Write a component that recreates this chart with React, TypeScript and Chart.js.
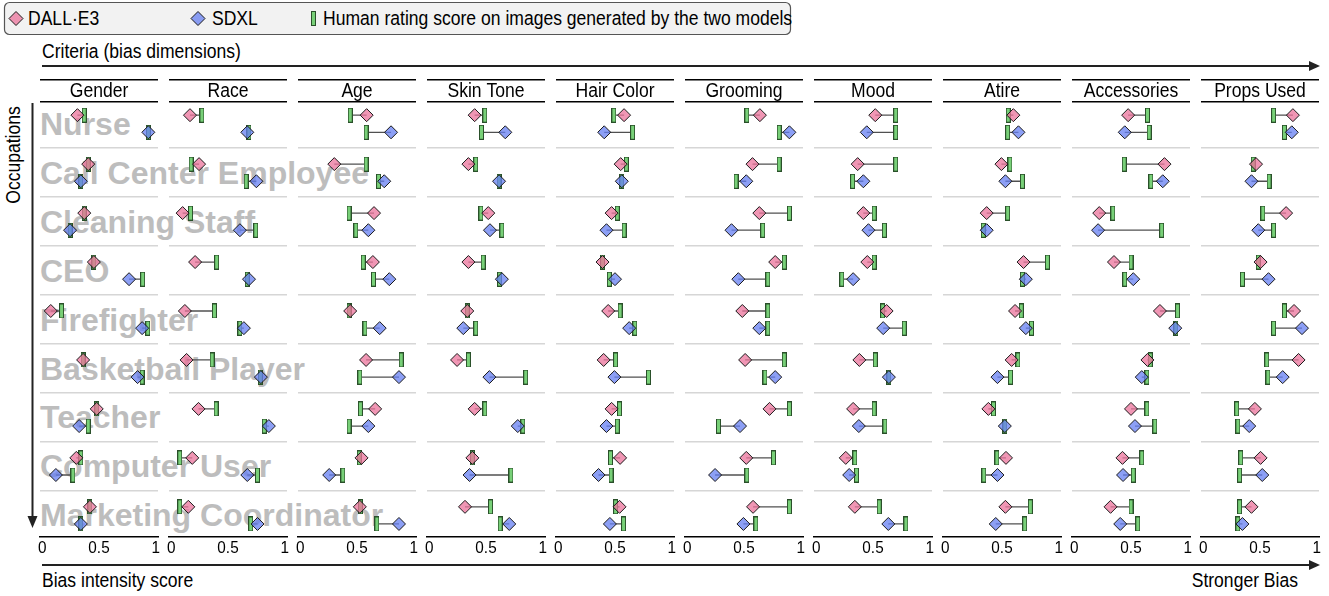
import React, { useEffect, useRef } from 'react';
import { Chart, registerables } from 'chart.js';

Chart.register(...registerables);

const criteria = ['Gender', 'Race', 'Age', 'Skin Tone', 'Hair Color', 'Grooming', 'Mood', 'Atire', 'Accessories', 'Props Used'];
const occupations = ['Nurse', 'Call Center Employee', 'Cleaning Staff', 'CEO', 'Firefighter', 'Basketball Player', 'Teacher', 'Computer User', 'Marketing Coordinator'];
const xTickValues = [0, 0.5, 1];
const xTickLabels = ['0', '0.5', '1'];

// one row per criterion, one value per occupation
const dalle3 = [
  [0.31, 0.405, 0.37, 0.455, 0.075, 0.36, 0.48, 0.30, 0.42],
  [0.165, 0.245, 0.10, 0.21, 0.12, 0.135, 0.24, 0.185, 0.15],
  [0.585, 0.30, 0.65, 0.64, 0.44, 0.58, 0.66, 0.54, 0.525],
  [0.40, 0.345, 0.52, 0.345, 0.335, 0.245, 0.40, 0.38, 0.315],
  [0.58, 0.55, 0.47, 0.39, 0.44, 0.40, 0.47, 0.545, 0.54],
  [0.64, 0.575, 0.635, 0.775, 0.485, 0.51, 0.725, 0.52, 0.58],
  [0.52, 0.365, 0.415, 0.45, 0.62, 0.38, 0.325, 0.26, 0.34],
  [0.60, 0.495, 0.365, 0.69, 0.615, 0.585, 0.38, 0.535, 0.53],
  [0.475, 0.795, 0.22, 0.35, 0.755, 0.645, 0.50, 0.425, 0.32],
  [0.79, 0.465, 0.73, 0.505, 0.80, 0.84, 0.455, 0.505, 0.425],
];
const humanDalle3 = [
  [0.37, 0.405, 0.37, 0.455, 0.17, 0.36, 0.48, 0.34, 0.42],
  [0.27, 0.175, 0.17, 0.40, 0.38, 0.36, 0.395, 0.075, 0.075],
  [0.44, 0.58, 0.43, 0.555, 0.43, 0.89, 0.53, 0.52, 0.53],
  [0.49, 0.41, 0.455, 0.475, 0.335, 0.345, 0.49, 0.38, 0.54],
  [0.49, 0.60, 0.52, 0.39, 0.545, 0.505, 0.54, 0.46, 0.505],
  [0.525, 0.81, 0.90, 0.855, 0.71, 0.855, 0.90, 0.76, 0.90],
  [0.70, 0.70, 0.51, 0.51, 0.585, 0.52, 0.51, 0.34, 0.555],
  [0.555, 0.57, 0.55, 0.90, 0.67, 0.64, 0.425, 0.455, 0.75],
  [0.645, 0.44, 0.34, 0.50, 0.91, 0.67, 0.64, 0.595, 0.50],
  [0.62, 0.44, 0.525, 0.485, 0.715, 0.56, 0.295, 0.33, 0.32],
];
const sdxl = [
  [0.935, 0.34, 0.245, 0.765, 0.88, 0.84, 0.325, 0.12, 0.34],
  [0.67, 0.75, 0.605, 0.685, 0.64, 0.79, 0.86, 0.67, 0.76],
  [0.80, 0.74, 0.60, 0.785, 0.70, 0.87, 0.60, 0.255, 0.87],
  [0.67, 0.615, 0.535, 0.64, 0.30, 0.53, 0.78, 0.355, 0.705],
  [0.405, 0.56, 0.425, 0.50, 0.625, 0.495, 0.425, 0.355, 0.455],
  [0.90, 0.52, 0.39, 0.45, 0.635, 0.775, 0.465, 0.245, 0.495],
  [0.445, 0.415, 0.46, 0.325, 0.59, 0.64, 0.375, 0.29, 0.635],
  [0.645, 0.53, 0.365, 0.71, 0.71, 0.46, 0.525, 0.46, 0.445],
  [0.445, 0.78, 0.21, 0.52, 0.89, 0.595, 0.535, 0.43, 0.405],
  [0.78, 0.425, 0.485, 0.575, 0.87, 0.70, 0.405, 0.52, 0.345],
];
const humanSdxl = [
  [0.935, 0.34, 0.245, 0.885, 0.93, 0.88, 0.405, 0.27, 0.34],
  [0.685, 0.66, 0.745, 0.67, 0.605, 0.785, 0.82, 0.76, 0.70],
  [0.58, 0.69, 0.49, 0.645, 0.57, 0.525, 0.43, 0.375, 0.675],
  [0.46, 0.615, 0.64, 0.62, 0.41, 0.85, 0.825, 0.72, 0.625],
  [0.655, 0.56, 0.58, 0.45, 0.675, 0.795, 0.52, 0.465, 0.575],
  [0.81, 0.43, 0.665, 0.71, 0.71, 0.685, 0.275, 0.525, 0.605],
  [0.70, 0.32, 0.60, 0.225, 0.775, 0.64, 0.605, 0.355, 0.79],
  [0.55, 0.68, 0.335, 0.68, 0.76, 0.575, 0.525, 0.34, 0.70],
  [0.66, 0.675, 0.77, 0.445, 0.895, 0.64, 0.71, 0.52, 0.56],
  [0.715, 0.58, 0.62, 0.345, 0.62, 0.57, 0.305, 0.32, 0.305],
];

const FONT = "'Liberation Sans', Arial, sans-serif";
const PINK = 'rgba(235,115,155,0.75)';
const BLUE = 'rgba(102,127,242,0.75)';
const LINE = '#505050';
const ROW_OFFSET = 0.175;
const Y_MIN = -0.45;
const Y_MAX = 8.435;
const TEXT_SIZE = 19.5;
const TICK_SIZE = 17;
const SQUEEZE = 0.9; // horizontal compression to mimic the narrow original font

// layout (page pixels)
const PANEL_LEFT0 = 40;
const PANEL_PITCH = 129;
const PANEL_W = 118;
const AREA_TOP = 101.7;
const AREA_BOTTOM = 536.7;
const CANVAS_TOP = 70;
const CANVAS_H = 500;
const PAD_X = 12;
const X_AXIS_H = 22;

let barImage: HTMLCanvasElement | null = null;
function greenBar() {
  if (barImage) return barImage;
  const c = document.createElement('canvas');
  c.width = 5;
  c.height = 15;
  const g = c.getContext('2d')!;
  g.fillStyle = '#78d078';
  g.fillRect(0, 0, 5, 15);
  g.strokeStyle = '#2a502a';
  g.lineWidth = 1;
  g.strokeRect(0.5, 0.5, 4, 14);
  barImage = c;
  return c;
}

function narrowText(ctx: CanvasRenderingContext2D, text: string, x: number, y: number, size: number) {
  ctx.save();
  ctx.translate(x, y);
  ctx.scale(SQUEEZE, 1);
  ctx.font = `${size}px ${FONT}`;
  ctx.textAlign = 'center';
  ctx.textBaseline = 'middle';
  ctx.fillStyle = '#000';
  ctx.fillText(text, 0, 0);
  ctx.restore();
}

function Panel({ k }: { k: number }) {
  const ref = useRef<HTMLCanvasElement>(null);
  useEffect(() => {
    const canvas = ref.current!;
    const bar = greenBar();
    const datasets: any[] = [];
    const yD = (i: number) => i - ROW_OFFSET;
    const yS = (i: number) => i + ROW_OFFSET;
    occupations.forEach((_, i) => {
      datasets.push({
        data: [{ x: dalle3[k][i], y: yD(i) }, { x: humanDalle3[k][i], y: yD(i) }],
        showLine: true, borderColor: LINE, borderWidth: 1.3, pointRadius: 0, order: 2,
      });
      datasets.push({
        data: [{ x: sdxl[k][i], y: yS(i) }, { x: humanSdxl[k][i], y: yS(i) }],
        showLine: true, borderColor: LINE, borderWidth: 1.3, pointRadius: 0, order: 2,
      });
    });
    datasets.push({
      data: occupations.map((_, i) => ({ x: humanDalle3[k][i], y: yD(i) })),
      pointStyle: bar, pointRadius: 6, order: 1,
    });
    datasets.push({
      data: occupations.map((_, i) => ({ x: humanSdxl[k][i], y: yS(i) })),
      pointStyle: bar, pointRadius: 6, order: 1,
    });
    datasets.push({
      data: occupations.map((_, i) => ({ x: dalle3[k][i], y: yD(i) })),
      pointStyle: 'rectRot', pointRadius: 6.5, backgroundColor: PINK, borderColor: '#1a1a1a', borderWidth: 1, order: 0,
    });
    datasets.push({
      data: occupations.map((_, i) => ({ x: sdxl[k][i], y: yS(i) })),
      pointStyle: 'rectRot', pointRadius: 6.5, backgroundColor: BLUE, borderColor: '#1a1a1a', borderWidth: 1, order: 0,
    });

    const header = {
      id: 'header',
      afterDraw(chart: any) {
        const { ctx, chartArea, scales } = chart;
        const { left, right, top, bottom } = chartArea;
        ctx.save();
        ctx.strokeStyle = '#000';
        ctx.lineWidth = 1.5;
        ctx.beginPath();
        ctx.moveTo(left, top - 22);
        ctx.lineTo(right, top - 22);
        ctx.moveTo(left, top);
        ctx.lineTo(right, top);
        ctx.stroke();
        ctx.restore();
        narrowText(ctx, criteria[k], (left + right) / 2, top - 10.5, TEXT_SIZE);
        xTickValues.forEach((v, j) => {
          narrowText(ctx, xTickLabels[j], scales.x.getPixelForValue(v), bottom + 12, TICK_SIZE);
        });
      },
    };

    const chart = new Chart(canvas, {
      type: 'scatter',
      data: { datasets },
      options: {
        animation: false,
        responsive: false,
        events: [],
        layout: {
          padding: {
            left: PAD_X,
            right: PAD_X,
            top: AREA_TOP - CANVAS_TOP,
            bottom: CANVAS_H - (AREA_BOTTOM - CANVAS_TOP) - X_AXIS_H,
          },
        },
        plugins: { legend: { display: false }, tooltip: { enabled: false }, title: { display: false } },
        scales: {
          x: {
            type: 'linear',
            min: -0.02,
            max: 1.02,
            afterBuildTicks: (s: any) => { s.ticks = xTickValues.map((v) => ({ value: v })); },
            afterFit: (s: any) => { s.height = X_AXIS_H; },
            ticks: { display: false },
            grid: { display: false },
            border: { display: true, color: '#000', width: 1.5 },
          },
          y: {
            type: 'linear',
            min: Y_MIN,
            max: Y_MAX,
            reverse: true,
            afterBuildTicks: (s: any) => { s.ticks = occupations.slice(1).map((_, i) => ({ value: i + 0.5 })); },
            afterFit: (s: any) => { s.width = 0; },
            ticks: { display: false },
            grid: { color: '#d6d6d6', lineWidth: 1.5, drawTicks: false },
            border: { display: false },
          },
        },
      },
      plugins: [header],
    });
    return () => chart.destroy();
  }, [k]);
  const left = PANEL_LEFT0 + PANEL_PITCH * k - PAD_X;
  return (
    <canvas
      ref={ref}
      width={PANEL_W + 2 * PAD_X}
      height={CANVAS_H}
      style={{ position: 'absolute', left, top: CANVAS_TOP, width: PANEL_W + 2 * PAD_X, height: CANVAS_H, display: 'block', zIndex: 1 }}
    />
  );
}

function rowCenter(i: number) {
  return AREA_TOP + ((i - Y_MIN) / (Y_MAX - Y_MIN)) * (AREA_BOTTOM - AREA_TOP);
}

function Diamond({ cx, cy, r, fill }: { cx: number; cy: number; r: number; fill: string }) {
  return <polygon points={`${cx - r},${cy} ${cx},${cy - r} ${cx + r},${cy} ${cx},${cy + r}`} fill={fill} stroke="#1a1a1a" strokeWidth={1} />;
}

function Label({ x, y, children, anchor = 'start', rotate = 0 }: { x: number; y: number; children: string; anchor?: string; rotate?: number }) {
  return (
    <text
      transform={`translate(${x},${y}) rotate(${rotate}) scale(${SQUEEZE},1)`}
      textAnchor={anchor as any}
      fontSize={TEXT_SIZE}
      fontFamily={FONT}
      fill="#000"
    >
      {children}
    </text>
  );
}

export default function App() {
  const ks = criteria.map((_, k) => k);
  return (
    <div style={{ position: 'absolute', left: 0, top: 0, width: 1329, height: 596, background: '#fff', overflow: 'hidden', fontFamily: FONT }}>
      <svg width={1329} height={596} style={{ position: 'absolute', left: 0, top: 0, zIndex: 0 }}>
        {/* legend */}
        <rect x={4.5} y={2.5} width={786} height={32} rx={5} fill="#f2f2f2" stroke="#555" strokeWidth={1.2} />
        <Diamond cx={16} cy={18.5} r={7} fill={PINK} />
        <Label x={28} y={25}>DALL·E3</Label>
        <Diamond cx={198} cy={18.5} r={7} fill={BLUE} />
        <Label x={212} y={25}>SDXL</Label>
        <rect x={311.5} y={11.5} width={4} height={14} fill="#78d078" stroke="#2a502a" strokeWidth={1} />
        <Label x={323} y={25}>Human rating score on images generated by the two models</Label>

        {/* criteria arrow */}
        <Label x={42} y={58}>Criteria (bias dimensions)</Label>
        <line x1={42} y1={66} x2={1311} y2={66} stroke="#222" strokeWidth={2} />
        <polygon points="1309,61 1320,66 1309,71" fill="#222" />

        {/* occupations arrow */}
        <Label x={20} y={155} anchor="middle" rotate={-90}>Occupations</Label>
        <line x1={32.5} y1={103} x2={32.5} y2={518} stroke="#222" strokeWidth={2} />
        <polygon points="27.5,516 37.5,516 32.5,528" fill="#222" />

        {/* occupation labels */}
        {occupations.map((o, i) => (
          <text key={o} x={40} y={rowCenter(i) + 11} fontSize={32} fontWeight="bold" fontFamily={FONT} fill="#bdbdbd">{o}</text>
        ))}

        {/* bottom arrow */}
        <line x1={42} y1={565} x2={1311} y2={565} stroke="#222" strokeWidth={2} />
        <polygon points="1309,560 1320,565 1309,570" fill="#222" />
        <Label x={42} y={587}>Bias intensity score</Label>
        <Label x={1298} y={587} anchor="end">Stronger Bias</Label>
      </svg>
      {ks.map((k) => <Panel key={k} k={k} />)}
    </div>
  );
}
